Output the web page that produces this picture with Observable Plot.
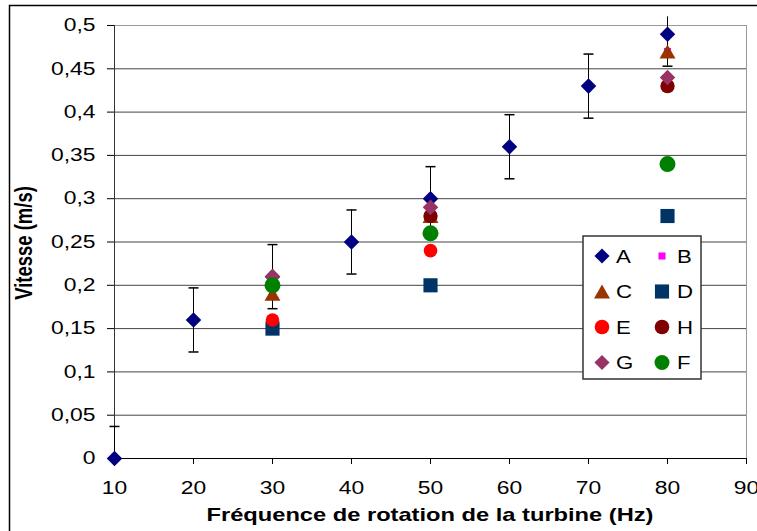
<!DOCTYPE html>
<html><head><meta charset="utf-8">
<script src="https://cdn.jsdelivr.net/npm/d3@7"></script>
<script src="https://cdn.jsdelivr.net/npm/@observablehq/plot@0.6"></script>
<style>body{margin:0;background:#fff;} svg{display:block}</style>
</head><body>
<script>
// ---- data ----
const xTicks = [10, 20, 30, 40, 50, 60, 70, 80, 90];
const yTicks = [0, 0.05, 0.1, 0.15, 0.2, 0.25, 0.3, 0.35, 0.4, 0.45, 0.5];
const freqA = [10, 20, 30, 40, 50, 60, 70, 80];
const vitA  = [0, 0.16, 0.21, 0.25, 0.30, 0.36, 0.43, 0.49];
const errA  = [0.037, 0.037, 0.037, 0.037, 0.037, 0.037, 0.037, 0.037];
const freqB = [30, 50, 80]; const vitB = [0.19, 0.28, 0.47];
const freqC = [30, 50, 80]; const vitC = [0.19, 0.28, 0.47];
const freqD = [30, 50, 80]; const vitD = [0.15, 0.20, 0.28];
const freqE = [30, 50];     const vitE = [0.16, 0.24];
const freqH = [50, 80];     const vitH = [0.28, 0.43];
const freqG = [30, 50, 80]; const vitG = [0.21, 0.29, 0.44];
const freqF = [30, 50, 80]; const vitF = [0.20, 0.26, 0.34];
const seriesNames = ["A", "B", "C", "D", "E", "H", "G", "F"];
const xLabel = "Fréquence de rotation de la turbine (Hz)";
const yLabel = "Vitesse (m/s)";

// ---- styles ----
const styles = {
  A: {color: "#000080", symbol: "diamond2", r: 7, rl: 6.8, dy: 0},
  B: {color: "#ff00ff", symbol: "square2", r: 4.5, rl: 4.5, dy: 0},
  C: {color: "#993300", symbol: "triangle2", r: 7.6, rl: 7.6, dy: 2.3},
  D: {color: "#003366", symbol: "square2", r: 9, rl: 9, dy: 0},
  E: {color: "#ff0000", symbol: "circle", r: 6.8, rl: 7.3, dy: 0},
  H: {color: "#800000", symbol: "circle", r: 7.2, rl: 7.3, dy: 0},
  G: {color: "#993366", symbol: "diamond2", r: 7, rl: 6.8, dy: 0},
  F: {color: "#008000", symbol: "circle", r: 8, rl: 7.5, dy: 0}
};
const raw = {
  A: [freqA, vitA], B: [freqB, vitB], C: [freqC, vitC], D: [freqD, vitD],
  E: [freqE, vitE], H: [freqH, vitH], G: [freqG, vitG], F: [freqF, vitF]
};
const series = {};
for (const n of seriesNames) series[n] = raw[n][0].map((x, i) => ({x, y: raw[n][1][i]}));

const errData = freqA.map((x, i) => ({x, lo: vitA[i] - errA[i], hi: vitA[i] + errA[i]}));
const capData = errData.flatMap(d => [d.lo, d.hi].filter(v => v >= 0 && v <= 0.5).map(y => ({x: d.x, y})));
const capSymbol = {draw(ctx) { ctx.moveTo(-5, 0); ctx.lineTo(5, 0); }};

const plot = Plot.plot({
  width: 757, height: 531,
  marginLeft: 114, marginRight: 11, marginTop: 25, marginBottom: 73,
  style: {fontFamily: "'Liberation Sans', Arial, sans-serif", fontSize: "18px", background: "white", overflow: "visible", color: "black"},
  x: {domain: [10, 90]},
  y: {domain: [0, 0.5]},
  marks: [
    Plot.gridY(yTicks.filter(v => v > 0 && v < 0.5), {stroke: "#444", strokeOpacity: 1}),
    Plot.ruleY([0.5], {stroke: "#999"}),
    Plot.ruleX([90], {stroke: "#999"}),
    Plot.axisX({ticks: xTicks, tickSize: 6, tickPadding: 17, tickFormat: d => String(d), label: null, fontSize: 18}),
    Plot.axisY({ticks: yTicks, tickSize: 7, tickPadding: 12, tickFormat: d => String(d).replace(".", ","), label: null, fontSize: 18}),
    Plot.ruleX([10], {stroke: "#333"}),
    Plot.ruleY([0], {stroke: "black"}),
    Plot.ruleX(errData, {x: "x", y1: d => Math.max(d.lo, 0), y2: d => Math.min(d.hi, 0.51), stroke: "black"}),
    Plot.dot(capData, {x: "x", y: "y", symbol: capSymbol, r: 1, stroke: "black", fill: "none"}),
    ...seriesNames.map(n => Plot.dot(series[n], {
      x: "x", y: "y", symbol: styles[n].symbol, r: styles[n].r,
      fill: styles[n].color, stroke: "none", dy: styles[n].dy
    }))
  ]
});
document.body.appendChild(plot);
const svg = d3.select(plot);
const stretch = 1.27;
svg.selectAll("text").each(function () {
  const w = this.getComputedTextLength();
  this.setAttribute("textLength", w * stretch);
  this.setAttribute("lengthAdjust", "spacingAndGlyphs");
});

// outer frame
svg.insert("rect", ":first-child")
  .attr("x", 9.5).attr("y", 5.5).attr("width", 800).attr("height", 600)
  .attr("fill", "none").attr("stroke", "black").attr("stroke-width", 1.5);

// axis titles
svg.append("text")
  .attr("x", 430).attr("y", 521).attr("text-anchor", "middle")
  .attr("font-weight", "bold").attr("font-size", "18.5px")
  .attr("textLength", 447).attr("lengthAdjust", "spacingAndGlyphs")
  .text(xLabel);
svg.append("text")
  .attr("transform", "translate(32,243) scale(1.27,1) rotate(-90)")
  .attr("text-anchor", "middle")
  .attr("font-weight", "bold").attr("font-size", "18.5px")
  .text(yLabel);

// legend
const lg = svg.append("g");
lg.append("rect").attr("x", 583).attr("y", 236).attr("width", 118).attr("height", 143)
  .attr("fill", "white").attr("stroke", "#333").attr("stroke-width", 1.5);
const symMap = {diamond2: d3.symbolDiamond2, square2: d3.symbolSquare2, triangle2: d3.symbolTriangle2, circle: d3.symbolCircle};
const colX = [602, 662], labX = [616, 677], rowY = [256, 291.5, 327, 362.5];
seriesNames.forEach((n, i) => {
  const c = i % 2, r = Math.floor(i / 2), st = styles[n];
  lg.append("path")
    .attr("d", d3.symbol(symMap[st.symbol], Math.PI * st.rl * st.rl)())
    .attr("transform", `translate(${colX[c]},${rowY[r] + st.dy})`)
    .attr("fill", st.color);
  const t = lg.append("text").attr("x", labX[c]).attr("y", rowY[r] + 6.5)
    .attr("text-anchor", "start")
    .attr("font-size", "18.5px").text(n);
  const w = t.node().getComputedTextLength();
  t.attr("textLength", w * 1.2).attr("lengthAdjust", "spacingAndGlyphs");
});
</script>
</body></html>
